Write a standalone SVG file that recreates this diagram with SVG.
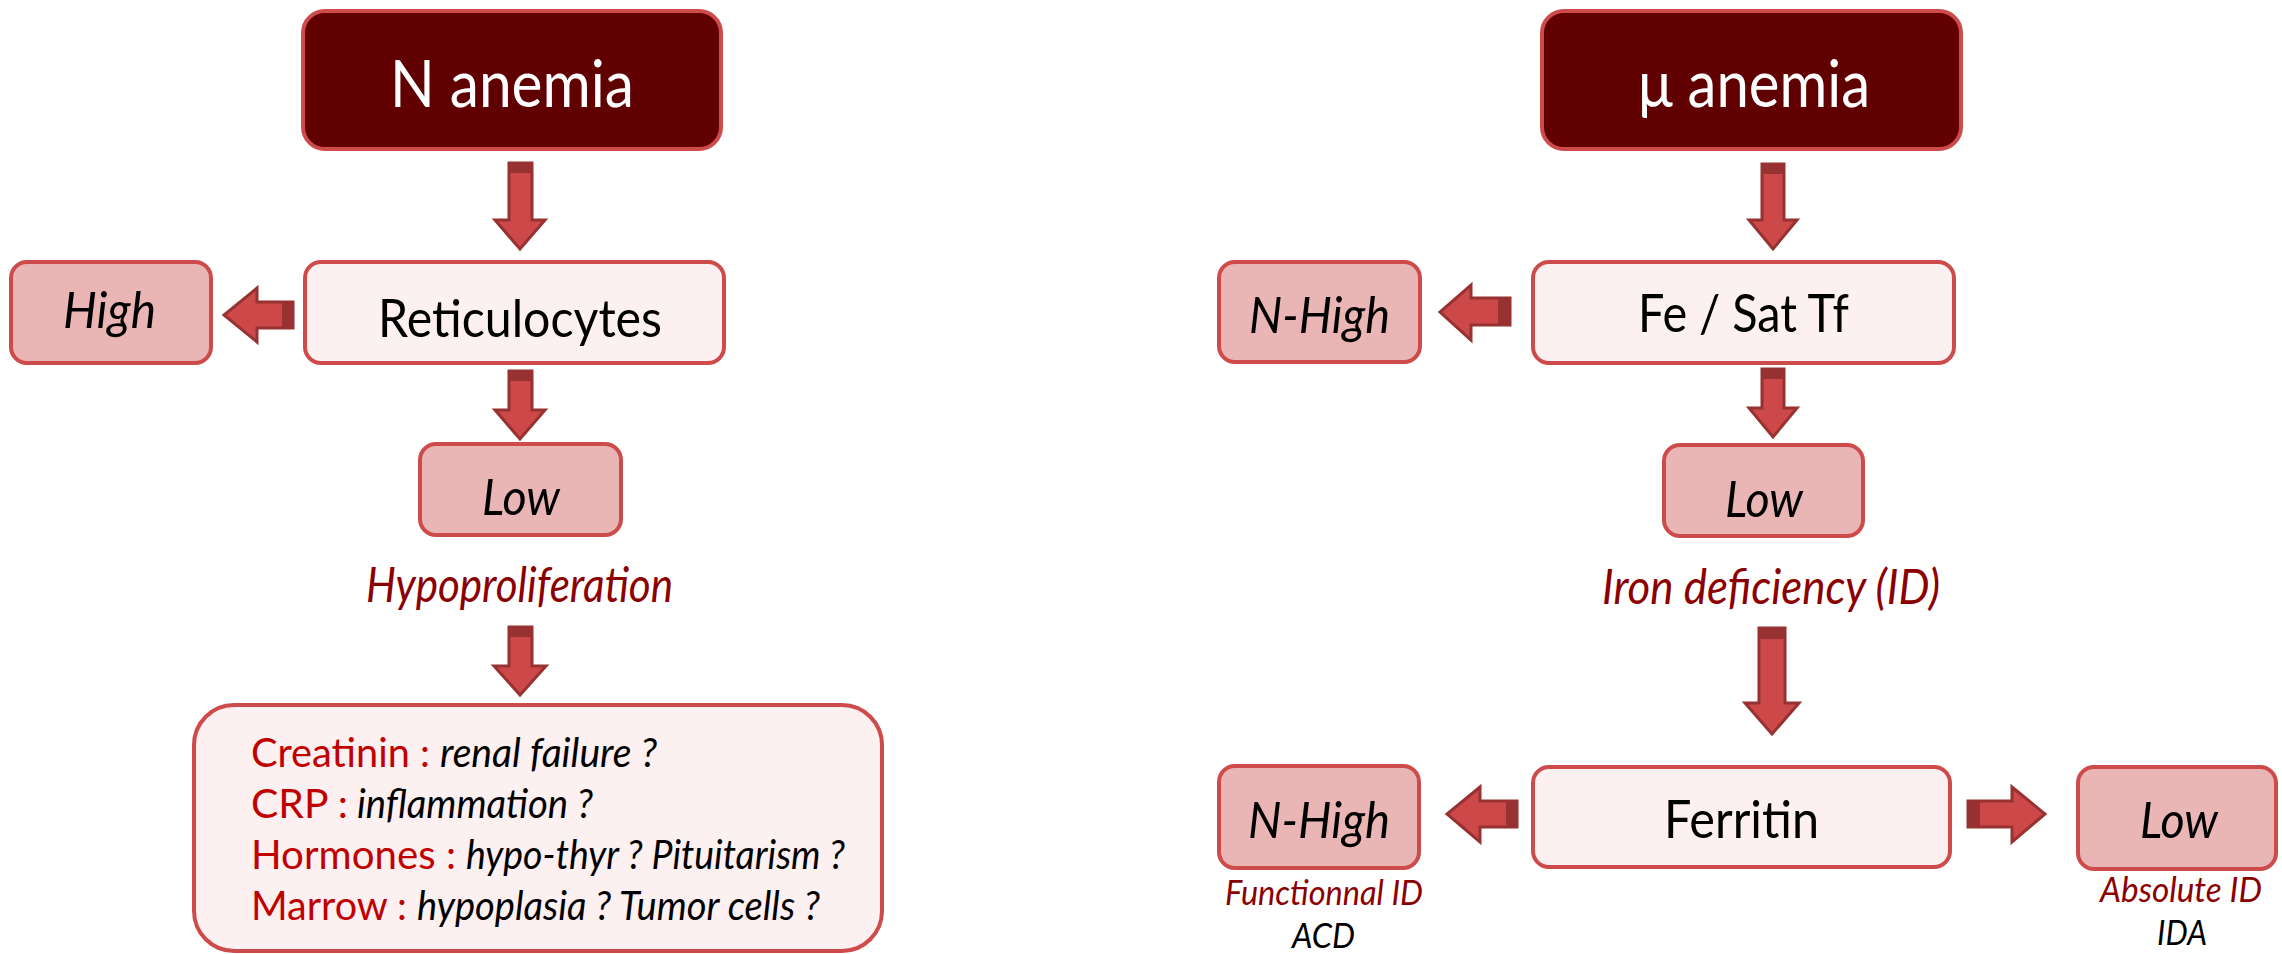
<svg xmlns="http://www.w3.org/2000/svg" width="2282" height="954" viewBox="0 0 2282 954">
<style>
.box{stroke:#cd4b4b;stroke-width:4}
.dark{fill:#600000}
.light{fill:#fdf0f0}
.mid{fill:#e9b5b5}
.arrow{fill:#cd4949;stroke:#983232;stroke-width:3;stroke-linejoin:miter}
.cap{fill:#983232}
text{font-family:Lato,"Open Sans","Liberation Sans",sans-serif}
.title{fill:#ffffff;font-size:65px}
.main{fill:#000;font-size:53px}
.res{fill:#000;font-size:51px;font-style:italic}
.lab{fill:#8b0000;font-size:48px;font-style:italic}
.key{fill:#c00000;font-size:41px}
.q{fill:#000;font-size:41px;font-style:italic}
.sub{fill:#8b0000;font-size:34px;font-style:italic}
.sub2{fill:#000;font-size:34px;font-style:italic}
</style>
<rect width="2282" height="954" fill="#ffffff"/>
<g id="connectors">
  <polygon class="arrow" points="509,163 532,163 532,220 545,220 520,249 495,220 509,220"/>
  <rect class="cap" x="509" y="163" width="23" height="10"/>
  <polygon class="arrow" points="509,371 532,371 532,410 545,410 520,439 495,410 509,410"/>
  <rect class="cap" x="509" y="371" width="23" height="10"/>
  <polygon class="arrow" points="509,627 532,627 532,666 546,666 520,695 494,666 509,666"/>
  <rect class="cap" x="509" y="627" width="23" height="10"/>
  <polygon class="arrow" points="293,302 293,328 257,328 257,342 224,315 257,288 257,302"/>
  <rect class="cap" x="282" y="302" width="11" height="26"/>
  <polygon class="arrow" points="1762,164 1784,164 1784,220 1797,220 1773,249 1749,220 1762,220"/>
  <rect class="cap" x="1762" y="164" width="22" height="10"/>
  <polygon class="arrow" points="1762,369 1784,369 1784,408 1797,408 1773,437 1749,408 1762,408"/>
  <rect class="cap" x="1762" y="369" width="22" height="10"/>
  <polygon class="arrow" points="1759,628 1785,628 1785,703 1799,703 1772,734 1745,703 1759,703"/>
  <rect class="cap" x="1759" y="628" width="26" height="11"/>
  <polygon class="arrow" points="1510,298 1510,325 1471,325 1471,340 1440,312 1471,285 1471,298"/>
  <rect class="cap" x="1498" y="298" width="12" height="27"/>
  <polygon class="arrow" points="1517,801 1517,827 1480,827 1480,842 1447,814 1480,787 1480,801"/>
  <rect class="cap" x="1506" y="801" width="11" height="26"/>
  <polygon class="arrow" points="1968,801 2012,801 2012,787 2045,814 2012,842 2012,827 1968,827"/>
  <rect class="cap" x="1968" y="801" width="12" height="26"/>
</g>
<g id="n-anemia">
  <rect class="box dark" x="303" y="11" width="418" height="138" rx="22"/>
  <text class="title" x="390" y="107" textLength="244" lengthAdjust="spacingAndGlyphs">N anemia</text>
</g>
<g id="reticulocytes">
  <rect class="box light" x="305" y="262" width="419" height="101" rx="16"/>
  <text class="main" x="378" y="337" textLength="284" lengthAdjust="spacingAndGlyphs">Reticulocytes</text>
</g>
<g id="high">
  <rect class="box mid" x="11" y="262" width="200" height="101" rx="16"/>
  <text class="res" x="63" y="328" textLength="93" lengthAdjust="spacingAndGlyphs">High</text>
</g>
<g id="low-left">
  <rect class="box mid" x="420" y="444" width="201" height="91" rx="16"/>
  <text class="res" x="482" y="515" textLength="78" lengthAdjust="spacingAndGlyphs">Low</text>
</g>
<g id="hypoproliferation">
  <text class="lab" x="366" y="602" textLength="307" lengthAdjust="spacingAndGlyphs">Hypoproliferation</text>
</g>
<g id="tests">
  <rect class="box light" x="194" y="705" width="688" height="246" rx="40"/>
  <text class="key" x="251" y="767" textLength="179" lengthAdjust="spacingAndGlyphs">Creatinin :</text>
  <text class="q" x="440" y="767" textLength="217" lengthAdjust="spacingAndGlyphs">renal failure ?</text>
  <text class="key" x="251" y="818" textLength="97" lengthAdjust="spacingAndGlyphs">CRP :</text>
  <text class="q" x="357" y="818" textLength="236" lengthAdjust="spacingAndGlyphs">inflammation ?</text>
  <text class="key" x="251" y="869" textLength="205" lengthAdjust="spacingAndGlyphs">Hormones :</text>
  <text class="q" x="466" y="869" textLength="379" lengthAdjust="spacingAndGlyphs">hypo-thyr ? Pituitarism ?</text>
  <text class="key" x="251" y="920" textLength="156" lengthAdjust="spacingAndGlyphs">Marrow :</text>
  <text class="q" x="417" y="920" textLength="403" lengthAdjust="spacingAndGlyphs">hypoplasia ? Tumor cells ?</text>
</g>
<g id="mu-anemia">
  <rect class="box dark" x="1542" y="11" width="419" height="138" rx="22"/>
  <text class="title" x="1638" y="107" textLength="232" lengthAdjust="spacingAndGlyphs">μ anemia</text>
</g>
<g id="fe-sat-tf">
  <rect class="box light" x="1533" y="262" width="421" height="101" rx="16"/>
  <text class="main" x="1638" y="332" textLength="211" lengthAdjust="spacingAndGlyphs">Fe / Sat Tf</text>
</g>
<g id="n-high-top">
  <rect class="box mid" x="1219" y="262" width="201" height="100" rx="16"/>
  <text class="res" x="1249" y="333" textLength="141" lengthAdjust="spacingAndGlyphs">N-High</text>
</g>
<g id="low-mid">
  <rect class="box mid" x="1664" y="445" width="199" height="91" rx="16"/>
  <text class="res" x="1725" y="517" textLength="78" lengthAdjust="spacingAndGlyphs">Low</text>
</g>
<g id="iron-deficiency">
  <text class="lab" x="1602" y="604" textLength="338" lengthAdjust="spacingAndGlyphs">Iron deficiency (ID)</text>
</g>
<g id="ferritin">
  <rect class="box light" x="1533" y="767" width="417" height="100" rx="16"/>
  <text class="main" x="1664" y="838" textLength="155" lengthAdjust="spacingAndGlyphs">Ferritin</text>
</g>
<g id="n-high-bottom">
  <rect class="box mid" x="1219" y="766" width="200" height="102" rx="16"/>
  <text class="res" x="1248" y="838" textLength="142" lengthAdjust="spacingAndGlyphs">N-High</text>
  <text class="sub" x="1225" y="905" textLength="198" lengthAdjust="spacingAndGlyphs">Functionnal ID</text>
  <text class="sub2" x="1292" y="948" textLength="63" lengthAdjust="spacingAndGlyphs">ACD</text>
</g>
<g id="low-right">
  <rect class="box mid" x="2078" y="767" width="198" height="102" rx="16"/>
  <text class="res" x="2140" y="838" textLength="78" lengthAdjust="spacingAndGlyphs">Low</text>
  <text class="sub" x="2100" y="902" textLength="162" lengthAdjust="spacingAndGlyphs">Absolute ID</text>
  <text class="sub2" x="2157" y="945" textLength="50" lengthAdjust="spacingAndGlyphs">IDA</text>
</g>
</svg>
